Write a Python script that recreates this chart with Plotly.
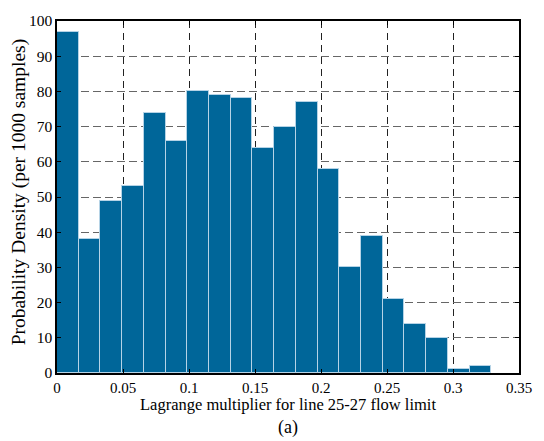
import numpy as np
import plotly.graph_objects as go

# Histogram data (per 1000 samples), 20 bins spanning [bin_min, bin_max]
bin_min = 0.0
bin_max = 0.329
counts = [97, 38, 49, 53, 74, 66, 80, 79, 78, 64, 70, 77, 58, 30, 39, 21, 14, 10, 1, 2]
x_ticks = [0, 0.05, 0.1, 0.15, 0.2, 0.25, 0.3, 0.35]
x_tick_labels = ["0", "0.05", "0.1", "0.15", "0.2", "0.25", "0.3", "0.35"]
y_ticks = [0, 10, 20, 30, 40, 50, 60, 70, 80, 90, 100]

edges = np.linspace(bin_min, bin_max, len(counts) + 1)
centers = (edges[:-1] + edges[1:]) / 2
width = edges[1] - edges[0]

FONT = "Liberation Serif, Times New Roman, serif"

fig = go.Figure()
fig.add_trace(go.Bar(
    x=centers, y=counts, width=width,
    marker=dict(color="#006699", line=dict(color="#b5d3e6", width=1)),
    hoverinfo="x+y",
))

fig.update_layout(
    width=544, height=441,
    margin=dict(l=57, r=15, t=13, b=68),
    paper_bgcolor="white", plot_bgcolor="white",
    showlegend=False,
    bargap=0,
    font=dict(family=FONT, size=15, color="black"),
    xaxis=dict(
        range=[0, 0.35], tickvals=x_ticks, ticktext=x_tick_labels,
        showgrid=True, gridcolor="#222222", griddash="7px,5px", gridwidth=1,
        showline=True, linecolor="black", linewidth=1.5, mirror="ticks",
        ticks="inside", ticklen=4, tickcolor="black",
        zeroline=False, ticklabelstandoff=0,
        tickfont=dict(family=FONT, size=15),
    ),
    yaxis=dict(
        range=[0, 100], tickvals=y_ticks,
        showgrid=True, gridcolor="#666666", griddash="8px,4px", gridwidth=1.2,
        showline=True, linecolor="black", linewidth=1.5, mirror="ticks",
        ticks="inside", ticklen=4, tickcolor="black",
        zeroline=False,
        tickfont=dict(family=FONT, size=15.5),
    ),
    annotations=[
        dict(text="Lagrange multiplier for line 25-27 flow limit",
             xref="paper", yref="paper", x=0.5, y=-0.089,
             xanchor="center", yanchor="middle", showarrow=False,
             font=dict(family=FONT, size=16.5)),
        dict(text="Probability Density (per 1000 samples)",
             xref="paper", yref="paper", x=-0.083, y=0.515, textangle=-90,
             xanchor="center", yanchor="middle", showarrow=False,
             font=dict(family=FONT, size=19.5)),
        dict(text="(a)", xref="paper", yref="paper", x=0.5, y=-0.155,
             xanchor="center", yanchor="middle", showarrow=False,
             font=dict(family=FONT, size=18)),
    ],
)

fig.write_html("out.html")
